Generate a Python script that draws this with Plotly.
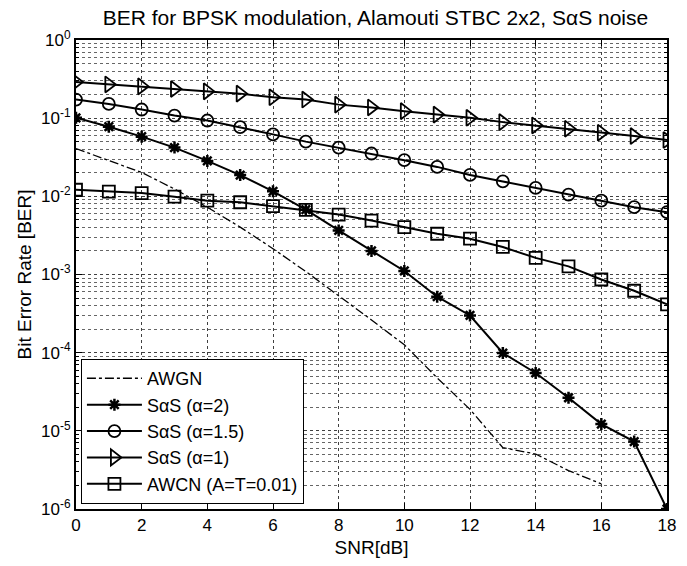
import plotly.graph_objects as go

snr = list(range(0, 19))
snr_awgn = list(range(0, 17))

ber_awgn = [0.0408, 0.029, 0.0202, 0.0124, 0.00726, 0.00404, 0.00214, 0.00109, 0.00054,
            0.000262, 0.000126, 4.76e-5, 1.88e-5, 6.1e-6, 5.05e-6, 3.1e-6, 2.1e-6]
ber_a2 = [0.101, 0.0777, 0.058, 0.042, 0.0284, 0.0187, 0.0116, 0.00676, 0.00366, 0.00200,
          0.00111, 0.00052, 0.000299, 9.9e-5, 5.5e-5, 2.65e-5, 1.22e-5, 7.3e-6, 1.0e-6]
ber_a15 = [0.173, 0.152, 0.129, 0.108, 0.0933, 0.0767, 0.062, 0.0501, 0.042, 0.0353,
           0.029, 0.0238, 0.0188, 0.0155, 0.0128, 0.0105, 0.0088, 0.00726, 0.00626]
ber_a1 = [0.29, 0.27, 0.255, 0.236, 0.22, 0.206, 0.185, 0.173, 0.149, 0.137,
          0.123, 0.111, 0.101, 0.089, 0.0807, 0.0733, 0.0651, 0.059, 0.0525]
ber_awcn = [0.01214, 0.01146, 0.0110, 0.0099, 0.0088, 0.0084, 0.00748, 0.0067, 0.00585, 0.0049,
            0.00404, 0.00332, 0.00287, 0.00225, 0.00163, 0.00127, 0.000863, 0.00062, 0.000415]

names = ["AWGN", "SαS (α=2)", "SαS (α=1.5)", "SαS (α=1)", "AWCN (A=T=0.01)"]
x_ticks = list(range(0, 19, 2))
y_exps = list(range(-6, 1))
y_ticktext = ["10<sup>%d</sup>" % e for e in y_exps]

FONT = "Liberation Sans, Arial, Helvetica, sans-serif"
fig = go.Figure()

fig.add_trace(go.Scatter(x=snr_awgn, y=ber_awgn, name=names[0], mode="lines",
                         line=dict(color="black", width=1.3, dash="dashdot")))
fig.add_trace(go.Scatter(x=snr, y=ber_a2, name=names[1], mode="lines+markers",
                         line=dict(color="black", width=2),
                         marker=dict(symbol="asterisk-open", size=10, color="black",
                                     line=dict(color="black", width=2.5))))
fig.add_trace(go.Scatter(x=snr, y=ber_a15, name=names[2], mode="lines+markers",
                         line=dict(color="black", width=2),
                         marker=dict(symbol="circle-open", size=12, color="black",
                                     line=dict(color="black", width=1.8))))
fig.add_trace(go.Scatter(x=snr, y=ber_a1, name=names[3], mode="lines+markers",
                         line=dict(color="black", width=2),
                         marker=dict(symbol="triangle-right-open", size=14, color="black",
                                     line=dict(color="black", width=1.8))))
fig.add_trace(go.Scatter(x=snr, y=ber_awcn, name=names[4], mode="lines+markers",
                         line=dict(color="black", width=2),
                         marker=dict(symbol="square-open", size=12, color="black",
                                     line=dict(color="black", width=1.8))))

minor_vals = [k * 10.0 ** e for e in range(-6, 0) for k in range(2, 10)]

fig.update_layout(
    width=687, height=566,
    margin=dict(l=76, r=11, t=40, b=54),
    paper_bgcolor="white", plot_bgcolor="white",
    font=dict(family=FONT, size=17, color="black"),
    title=dict(text="BER for BPSK modulation, Alamouti STBC 2x2, SαS noise",
               x=0.5465, xanchor="center", y=0.968, yanchor="middle",
               font=dict(family=FONT, size=21, color="black")),
    showlegend=True,
    legend=dict(x=0.008, y=0.011, xanchor="left", yanchor="bottom",
                bgcolor="white", bordercolor="black", borderwidth=1.2,
                font=dict(family=FONT, size=18, color="black"),
                itemwidth=55, tracegroupgap=0),
)
fig.update_xaxes(
    range=[0, 18], tickvals=x_ticks, ticks="inside", ticklen=6, tickcolor="black",
    showline=True, linecolor="black", linewidth=2, mirror="ticks",
    showgrid=True, gridcolor="rgba(0,0,0,0.75)", gridwidth=1, griddash="3px,3px",
    zeroline=False, title=dict(text="SNR[dB]", standoff=6, font=dict(size=19)),
    tickfont=dict(size=17),
)
fig.update_yaxes(
    type="log", range=[-6, 0], tickvals=[10.0 ** e for e in y_exps], ticktext=y_ticktext,
    ticks="inside", ticklen=6, tickcolor="black",
    showline=True, linecolor="black", linewidth=2, mirror="ticks",
    showgrid=True, gridcolor="rgba(0,0,0,0.75)", gridwidth=1, griddash="3px,3px",
    minor=dict(tickvals=minor_vals, ticks="inside", ticklen=3, tickcolor="black",
               showgrid=True, gridcolor="rgba(0,0,0,0.6)", gridwidth=1, griddash="3px,3px"),
    zeroline=False, title=dict(text="Bit Error Rate [BER]", standoff=4, font=dict(size=19)),
    tickfont=dict(size=17),
)

fig.write_html("out.html")
